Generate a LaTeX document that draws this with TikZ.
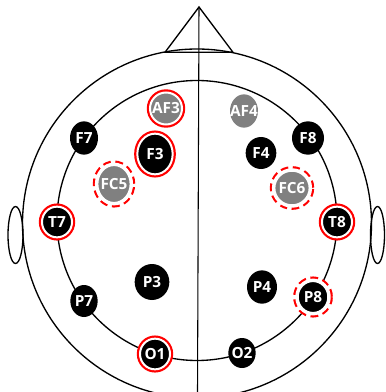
\documentclass[tikz,border=0pt]{standalone}
\usepackage{fontspec}
\setmainfont{Open Sans}
\usetikzlibrary{shapes.geometric}
\definecolor{elecgrey}{RGB}{128,128,128}
\tikzset{
	head/.style={line width=1pt},
	elec/.style={ellipse, fill=black, text=white, inner xsep=-6pt, inner ysep=0pt, minimum width=22pt, minimum height=25pt, font=\bfseries\fontsize{11.5}{13}\selectfont},
	elecg/.style={elec, fill=elecgrey},
	ring/.style={draw=white, line width=1.5pt, preaction={draw=red, line width=4.8pt}},
	dring/.style={draw=white, line width=2.6pt, preaction={draw=red, line width=5.8pt, dash pattern=on 5pt off 3pt}},
}
\begin{document}
\begin{tikzpicture}[x=0.75pt,y=-0.75pt]
	\useasboundingbox (0,0) rectangle (385,392);

	\coordinate (apex) at (199,7);
	\coordinate (nl) at (165,52.3);
	\coordinate (nr) at (233,52.3);
	\coordinate (chin) at (197.5,392);

	\draw[head] (197,223.5) circle [radius=174.5];
	\draw[head] (197,220.5) circle [radius=140];
	\draw[head] (nl) -- (apex) -- (nr) -- cycle;
	\draw[line width=0.8pt] (apex) -- (chin);
	\draw[head] (15.5,235) ellipse [x radius=7.5, y radius=28.5];
	\draw[head] (377.5,235) ellipse [x radius=7, y radius=28.5];

	\node[elecg, ring, minimum width=24pt, minimum height=24pt] (af3) at (166,108.5) {AF3};
	\node[elecg, minimum width=21pt] (af4) at (244,111) {AF4};
	\node[elec, minimum width=21pt] (f7) at (84,138) {F7};
	\node[elec, ring, minimum width=26.5pt, minimum height=30.5pt] (f3) at (155,154) {F3};
	\node[elec, minimum width=23pt, minimum height=24pt] (f4) at (261,153) {F4};
	\node[elec, minimum width=24pt] (f8) at (308,138) {F8};
	\node[elecg, dring, minimum width=26pt, minimum height=29.5pt] (fc5) at (114,184) {FC5};
	\node[elecg, dring, minimum width=27.5pt, minimum height=27pt] (fc6) at (292,188) {FC6};

	\node[elec, ring, minimum width=22.5pt, minimum height=23pt] (t7) at (57,222) {T7};
	\node[elec, ring, minimum width=22.5pt, minimum height=23pt] (t8) at (337,222) {T8};

	\node[elec, minimum width=26pt, minimum height=27pt] (p3) at (152,282) {P3};
	\node[elec, minimum width=22.5pt] (p4) at (262,287) {P4};
	\node[elec, minimum width=20.5pt, minimum height=24pt] (p7) at (84,301) {P7};
	\node[elec, dring, minimum width=24pt, minimum height=25pt] (p8) at (313,297) {P8};
	\node[elec, ring, minimum width=22.5pt, minimum height=23pt] (o1) at (155,354) {O1};
	\node[elec, minimum width=20.5pt, minimum height=22.5pt] (o2) at (242,353) {O2};
\end{tikzpicture}
\end{document}
